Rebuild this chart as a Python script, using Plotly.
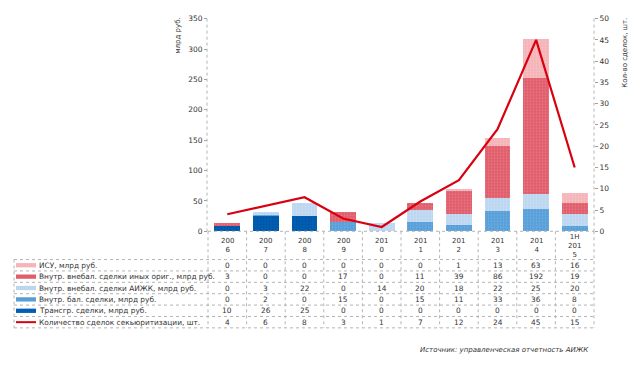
import plotly.graph_objects as go

W, H = 635, 366

categories = ["2006", "2007", "2008", "2009", "2010", "2011", "2012", "2013", "2014", "1H 2015"]
header_labels = ["200<br>6", "200<br>7", "200<br>8", "200<br>9", "201<br>0", "201<br>1",
                 "201<br>2", "201<br>3", "201<br>4", "1Н<br>201<br>5"]

isu = [0, 0, 0, 0, 0, 0, 1, 13, 63, 16]
other_orig = [3, 0, 0, 17, 0, 11, 39, 86, 192, 19]
aijk_offbal = [0, 3, 22, 0, 14, 20, 18, 22, 25, 20]
onbal = [0, 2, 0, 15, 0, 15, 11, 33, 36, 8]
crossborder = [10, 26, 25, 0, 0, 0, 0, 0, 0, 0]
deals = [4, 6, 8, 3, 1, 7, 12, 24, 45, 15]

series_names = [
    "ИСУ, млрд руб.",
    "Внутр. внебал. сделки иных ориг., млрд руб.",
    "Внутр. внебал. сделки АИЖК, млрд руб.",
    "Внутр. бал. сделки, млрд руб.",
    "Трансгр. сделки, млрд руб.",
    "Количество сделок секьюритизации, шт.",
]

# layout in pixels
PX_L, PX_R = 208, 594
PY_TOP, PY_BOT = 15, 233
ROW_TOP = 262
ROW_H = 11.67
TABLE_L = 14
FS = 7
FT = 7.4
TXT = "#333333"

def fx(px):
    return px / W

def fy(py):
    return (H - py) / H

colors = {
    "isu": "#F4B4B8",
    "other": "#E05E6C",
    "aijk": "#BCD6F0",
    "onbal": "#5A9ED8",
    "cross": "#005FB4",
    "line": "#D9000F",
}

fig = go.Figure()
x = list(range(len(categories)))

bar_specs = [
    (crossborder, series_names[4], colors["cross"], "#003E80"),
    (onbal, series_names[3], colors["onbal"], "#7FC4F0"),
    (aijk_offbal, series_names[2], colors["aijk"], "#DDEBFA"),
    (other_orig, series_names[1], colors["other"], "#F0A0A8"),
    (isu, series_names[0], colors["isu"], "#FAD6D8"),
]
for vals, name, col, dot in bar_specs:
    fig.add_trace(go.Bar(
        x=x, y=vals, name=name,
        marker=dict(color=col, line=dict(width=0),
                    pattern=dict(shape=".", fgcolor=dot, size=3, solidity=0.25, fillmode="overlay")),
        showlegend=False,
    ))

fig.add_trace(go.Scatter(
    x=x, y=deals, name=series_names[5], mode="lines",
    line=dict(color=colors["line"], width=2.2),
    yaxis="y2", showlegend=False,
))

fig.update_layout(
    width=W, height=H,
    margin=dict(l=0, r=0, t=0, b=0),
    paper_bgcolor="white", plot_bgcolor="white",
    barmode="stack", bargap=0.33,
    font=dict(family="DejaVu Sans", size=FS, color=TXT),
    xaxis=dict(domain=[fx(PX_L), fx(PX_R)], range=[-0.5, 9.5], showticklabels=False,
               showgrid=False, zeroline=False, showline=False, ticks=""),
    yaxis=dict(domain=[fy(PY_BOT), fy(PY_TOP)], range=[0, 350], dtick=50,
               showgrid=False, zeroline=False, showline=False,
               ticks="outside", ticklen=3, tickcolor="#A0A0A0",
               tickfont=dict(size=7.5, color=TXT)),
    yaxis2=dict(domain=[fy(PY_BOT), fy(PY_TOP)], range=[0, 50], dtick=5, overlaying="y",
                side="right", showgrid=False, zeroline=False, showline=False,
                ticks="outside", ticklen=3, tickcolor="#A0A0A0",
                tickfont=dict(size=7.5, color=TXT)),
)

shapes = []
grid = dict(color="#B4B4B4", width=1, dash="dot")
# axis lines
shapes.append(dict(type="line", xref="paper", yref="paper", x0=fx(PX_L - 1), x1=fx(PX_L - 1),
                   y0=fy(PY_TOP), y1=fy(PY_BOT), line=grid))
shapes.append(dict(type="line", xref="paper", yref="paper", x0=fx(PX_R), x1=fx(PX_R),
                   y0=fy(PY_TOP), y1=fy(PY_BOT), line=grid))
# table horizontal lines
shapes.append(dict(type="line", xref="paper", yref="paper", x0=fx(PX_L), x1=fx(PX_R),
                   y0=fy(PY_BOT), y1=fy(PY_BOT), line=grid))
n_rows = 6
for r in range(n_rows + 1):
    yy = ROW_TOP + r * ROW_H
    shapes.append(dict(type="line", xref="paper", yref="paper", x0=fx(TABLE_L), x1=fx(PX_R),
                       y0=fy(yy), y1=fy(yy), line=grid))
# table vertical lines
col_w = (PX_R - PX_L) / len(categories)
for k in range(len(categories) + 1):
    xx = PX_L + k * col_w
    shapes.append(dict(type="line", xref="paper", yref="paper", x0=fx(xx), x1=fx(xx),
                       y0=fy(PY_BOT), y1=fy(ROW_TOP + n_rows * ROW_H), line=grid))
shapes.append(dict(type="line", xref="paper", yref="paper", x0=fx(TABLE_L), x1=fx(TABLE_L),
                   y0=fy(ROW_TOP), y1=fy(ROW_TOP + n_rows * ROW_H), line=grid))

# legend swatches
swatch_cols = [colors["isu"], colors["other"], colors["aijk"], colors["onbal"], colors["cross"]]
for r, c in enumerate(swatch_cols):
    yc = ROW_TOP + (r + 0.5) * ROW_H
    shapes.append(dict(type="rect", xref="paper", yref="paper", x0=fx(16), x1=fx(36),
                       y0=fy(yc + 2.2), y1=fy(yc - 2.2), fillcolor=c, line=dict(width=0)))
yc = ROW_TOP + 5.5 * ROW_H
shapes.append(dict(type="line", xref="paper", yref="paper", x0=fx(16), x1=fx(36),
                   y0=fy(yc), y1=fy(yc), line=dict(color=colors["line"], width=2)))

annotations = []
# header
for i, lab in enumerate(header_labels):
    annotations.append(dict(x=i, xref="x", y=fy((PY_BOT + ROW_TOP) / 2 + 0.5), yref="paper", text=lab,
                            showarrow=False, yanchor="middle", xanchor="center",
                            font=dict(size=FS, color=TXT)))
rows = [isu, other_orig, aijk_offbal, onbal, crossborder, deals]
for r, (name, vals) in enumerate(zip(series_names, rows)):
    yc = ROW_TOP + (r + 0.5) * ROW_H
    annotations.append(dict(x=fx(37), xref="paper", y=fy(yc), yref="paper", text=name,
                            showarrow=False, xanchor="left", yanchor="middle",
                            font=dict(size=FT, color=TXT)))
    for i, v in enumerate(vals):
        annotations.append(dict(x=i, xref="x", y=fy(yc), yref="paper", text=str(v),
                                showarrow=False, xanchor="center", yanchor="middle",
                                font=dict(size=FT, color=TXT)))

# axis titles
annotations.append(dict(x=fx(178), xref="paper", y=fy(12), yref="paper", text="млрд руб.",
                        textangle=-90, showarrow=False, xanchor="center", yanchor="top",
                        font=dict(size=FS, color=TXT)))
annotations.append(dict(x=fx(625), xref="paper", y=fy(12), yref="paper", text="Кол-во сделок, шт.",
                        textangle=-90, showarrow=False, xanchor="center", yanchor="top",
                        font=dict(size=FS, color=TXT)))
# source
annotations.append(dict(x=fx(591), xref="paper", y=fy(355), yref="paper",
                        text="<i>Источник: управленческая отчетность АИЖК</i>",
                        showarrow=False, xanchor="right", yanchor="middle",
                        font=dict(size=FS, color=TXT)))

fig.update_layout(shapes=shapes, annotations=annotations)
fig.write_html("out.html", config={"displayModeBar": False},
               post_script="document.body.style.margin='0';document.body.style.overflow='hidden';")
